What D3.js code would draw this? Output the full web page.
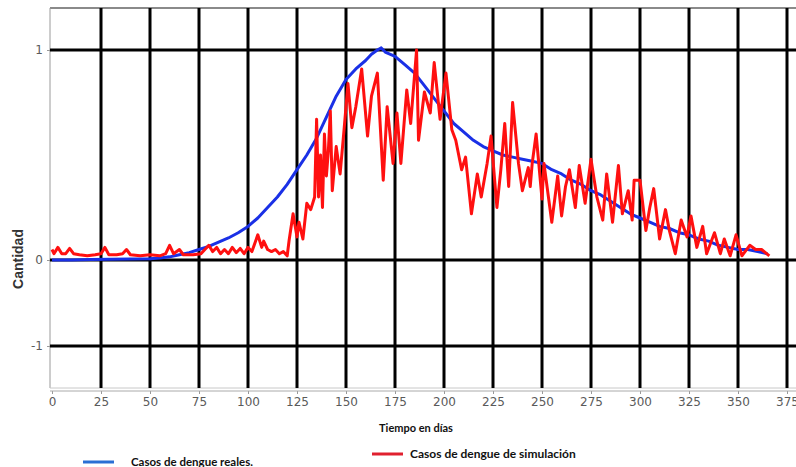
<!DOCTYPE html>
<html>
<head>
	<meta charset="utf-8">
	<title>Casos de dengue</title>
	<script src="https://cdnjs.cloudflare.com/ajax/libs/d3/7.8.5/d3.min.js"></script>
	<style>
		body { margin: 0; background: #fff; }
	</style>
</head>
<body>
	<script type="text/javascript">

		// ticks
		let xTicks = [0, 25, 50, 75, 100, 125, 150, 175, 200, 225, 250, 275, 300, 325, 350, 375];
		let yTicks = [-1, 0, 1];

		// casos reales (blue)
		let realDays = [0, 10, 20, 30, 40, 50, 55, 60, 65, 70, 75, 80, 85, 90, 95, 100, 105, 110, 115, 120,
			125, 130, 135, 140, 145, 150, 155, 160, 163, 166, 168, 170, 175, 180, 185, 190, 195, 200, 205, 210,
			215, 220, 225, 230, 235, 240, 245, 250, 255, 260, 265, 270, 275, 280, 285, 290, 295, 300, 305, 310,
			315, 320, 325, 330, 335, 340, 345, 350, 355, 360, 365];
		let realValues = [0, 0, 0.002, 0.003, 0.005, 0.006, 0.01, 0.015, 0.025, 0.035, 0.05, 0.065, 0.085, 0.105, 0.13, 0.16, 0.2, 0.25, 0.3, 0.36,
			0.43, 0.5, 0.58, 0.68, 0.78, 0.86, 0.91, 0.95, 0.98, 1.0, 1.01, 0.99, 0.97, 0.93, 0.89, 0.83, 0.77, 0.71, 0.65, 0.61,
			0.57, 0.54, 0.52, 0.5, 0.49, 0.48, 0.47, 0.46, 0.43, 0.41, 0.38, 0.36, 0.33, 0.31, 0.28, 0.25, 0.22, 0.2, 0.18, 0.16,
			0.15, 0.13, 0.12, 0.1, 0.09, 0.07, 0.06, 0.05, 0.05, 0.04, 0.03];

		// casos de simulacion (red)
		let simDays = [0, 1, 3, 5, 7, 9, 11, 14, 18, 22, 25, 27, 29, 33, 36, 38, 40, 45, 50, 55,
			58, 60, 62, 65, 67, 72, 76, 80, 82, 84, 86, 88, 90, 92, 94, 96, 98, 100, 102, 105,
			107, 108, 110, 112, 114, 116, 118, 120, 121, 123, 125, 126, 128, 130, 132, 134, 135, 136, 137, 138,
			139, 140, 141, 142, 143, 145, 147, 149, 151, 153, 155, 158, 161, 163, 166, 169, 171, 174, 176, 178,
			181, 183, 186, 187, 190, 193, 195, 198, 201, 204, 206, 209, 211, 214, 217, 219, 222, 224, 227, 229,
			231, 233, 235, 238, 240, 243, 244, 245, 247, 250, 251, 255, 258, 260, 262, 264, 267, 269, 272, 275,
			278, 281, 283, 286, 289, 291, 294, 296, 297, 300, 303, 305, 307, 310, 313, 315, 318, 321, 324, 326,
			329, 332, 334, 338, 341, 343, 346, 349, 352, 356, 359, 362, 366];
		let simValues = [0.05, 0.03, 0.06, 0.03, 0.03, 0.055, 0.03, 0.025, 0.02, 0.025, 0.03, 0.06, 0.025, 0.025, 0.03, 0.05, 0.025, 0.02, 0.025, 0.02,
			0.03, 0.07, 0.03, 0.05, 0.025, 0.025, 0.03, 0.07, 0.04, 0.06, 0.03, 0.05, 0.03, 0.06, 0.035, 0.055, 0.03, 0.06, 0.04, 0.12,
			0.06, 0.09, 0.05, 0.04, 0.05, 0.03, 0.04, 0.02, 0.095, 0.22, 0.11, 0.18, 0.1, 0.27, 0.24, 0.3, 0.67, 0.3, 0.5, 0.25,
			0.6, 0.4, 0.52, 0.71, 0.33, 0.54, 0.41, 0.62, 0.84, 0.63, 0.73, 0.91, 0.59, 0.78, 0.89, 0.38, 0.73, 0.46, 0.7, 0.46,
			0.81, 0.65, 1.0, 0.57, 0.8, 0.7, 0.94, 0.67, 0.89, 0.62, 0.57, 0.43, 0.49, 0.22, 0.41, 0.3, 0.46, 0.59, 0.25, 0.43,
			0.65, 0.35, 0.75, 0.46, 0.33, 0.44, 0.35, 0.46, 0.6, 0.29, 0.46, 0.18, 0.4, 0.21, 0.35, 0.43, 0.25, 0.45, 0.27, 0.48,
			0.3, 0.19, 0.41, 0.18, 0.45, 0.22, 0.33, 0.19, 0.38, 0.38, 0.14, 0.25, 0.34, 0.1, 0.24, 0.14, 0.03, 0.19, 0.11, 0.21,
			0.06, 0.16, 0.03, 0.13, 0.03, 0.1, 0.02, 0.12, 0.02, 0.07, 0.05, 0.05, 0.02];

		let svg = d3.select('body').append('svg')
			.attr('width', 796)
			.attr('height', 467);

		let plotL = 50, plotT = 8, plotR = 796, plotB = 388;

		let x = d3.scaleLinear().domain([0, 375]).range([52, 787]);
		// the picture is stretched unevenly above and below zero
		let y = d3.scaleLinear()
			.domain([-1.49, -1, 0, 1, 1.2])
			.range([plotB, 346, 260, 50, plotT]);

		//frame
		svg.append('line')
			.attr('x1', plotL).attr('x2', plotR)
			.attr('y1', plotT).attr('y2', plotT)
			.attr('stroke', '#8a8a8a').attr('stroke-width', 2);
		svg.append('line')
			.attr('x1', plotL).attr('x2', plotL)
			.attr('y1', plotT).attr('y2', plotB)
			.attr('stroke', '#9a9a9a').attr('stroke-width', 1);
		svg.append('line')
			.attr('x1', plotL).attr('x2', plotR)
			.attr('y1', plotB).attr('y2', plotB)
			.attr('stroke', '#c8c8c8').attr('stroke-width', 1);

		//grid
		svg.selectAll('.vgrid').data(xTicks.slice(1)).enter().append('line')
			.attr('class', 'vgrid')
			.attr('x1', x).attr('x2', x)
			.attr('y1', plotT).attr('y2', plotB)
			.attr('stroke', '#000').attr('stroke-width', 3);
		svg.selectAll('.hgrid').data(yTicks).enter().append('line')
			.attr('class', 'hgrid')
			.attr('x1', plotL).attr('x2', plotR)
			.attr('y1', y).attr('y2', y)
			.attr('stroke', '#000').attr('stroke-width', 3);

		//axes
		let xAxis = svg.append('g')
			.attr('transform', 'translate(0,391)')
			.call(d3.axisBottom(x).tickValues(xTicks).tickSize(3).tickPadding(3));
		xAxis.select('.domain').remove();
		xAxis.append('line')
			.attr('x1', plotL).attr('x2', plotR)
			.attr('stroke', '#aaa');

		let yAxis = svg.append('g')
			.attr('transform', 'translate(' + plotL + ',0)')
			.call(d3.axisLeft(y).tickValues(yTicks).tickSize(3).tickPadding(4)
				.tickFormat(d => String(d)));
		yAxis.select('.domain').remove();

		svg.selectAll('.tick line').attr('stroke', '#999');
		svg.selectAll('.tick text')
			.attr('fill', '#5a5a5a')
			.style('font-family', 'DejaVu Sans')
			.style('font-size', '12px');

		//series
		let line = d3.line()
			.x(d => x(d[0]))
			.y(d => y(d[1]));

		svg.append('path')
			.datum(d3.zip(realDays, realValues))
			.attr('d', line)
			.attr('fill', 'none')
			.attr('stroke', '#1a30e6')
			.attr('stroke-width', 3)
			.attr('stroke-linejoin', 'round');

		svg.append('path')
			.datum(d3.zip(simDays, simValues))
			.attr('d', line)
			.attr('fill', 'none')
			.attr('stroke', '#ff1010')
			.attr('stroke-width', 3)
			.attr('stroke-linejoin', 'round');

		//titles
		svg.append('text')
			.attr('transform', 'translate(23,259) rotate(-90)')
			.attr('text-anchor', 'middle')
			.style('font-family', 'Liberation Sans')
			.style('font-weight', 'bold')
			.style('font-size', '14px')
			.attr('fill', '#333')
			.text('Cantidad');

		svg.append('text')
			.attr('x', 416).attr('y', 432)
			.attr('text-anchor', 'middle')
			.style('font-family', 'Lato')
			.style('font-weight', 'bold')
			.style('font-size', '11px')
			.attr('fill', '#111')
			.text('Tiempo en días');

		//legend
		let legend = [
			{label: 'Casos de dengue reales.', color: '#2a6fd4', x: 83, y: 462, tx: 131, size: '11.5px'},
			{label: 'Casos de dengue de simulación', color: '#e0202f', x: 372, y: 454, tx: 410, size: '12px'}
		];
		let lg = svg.selectAll('.lg').data(legend).enter().append('g').attr('class', 'lg');
		lg.append('line')
			.attr('x1', d => d.x).attr('x2', d => d.x + 31)
			.attr('y1', d => d.y).attr('y2', d => d.y)
			.attr('stroke', d => d.color).attr('stroke-width', 3);
		lg.append('text')
			.attr('x', d => d.tx)
			.attr('y', d => d.y + 4)
			.style('font-family', 'Lato')
			.style('font-weight', 'bold')
			.style('font-size', d => d.size)
			.attr('fill', '#111')
			.text(d => d.label);

	</script>
</body>
</html>
